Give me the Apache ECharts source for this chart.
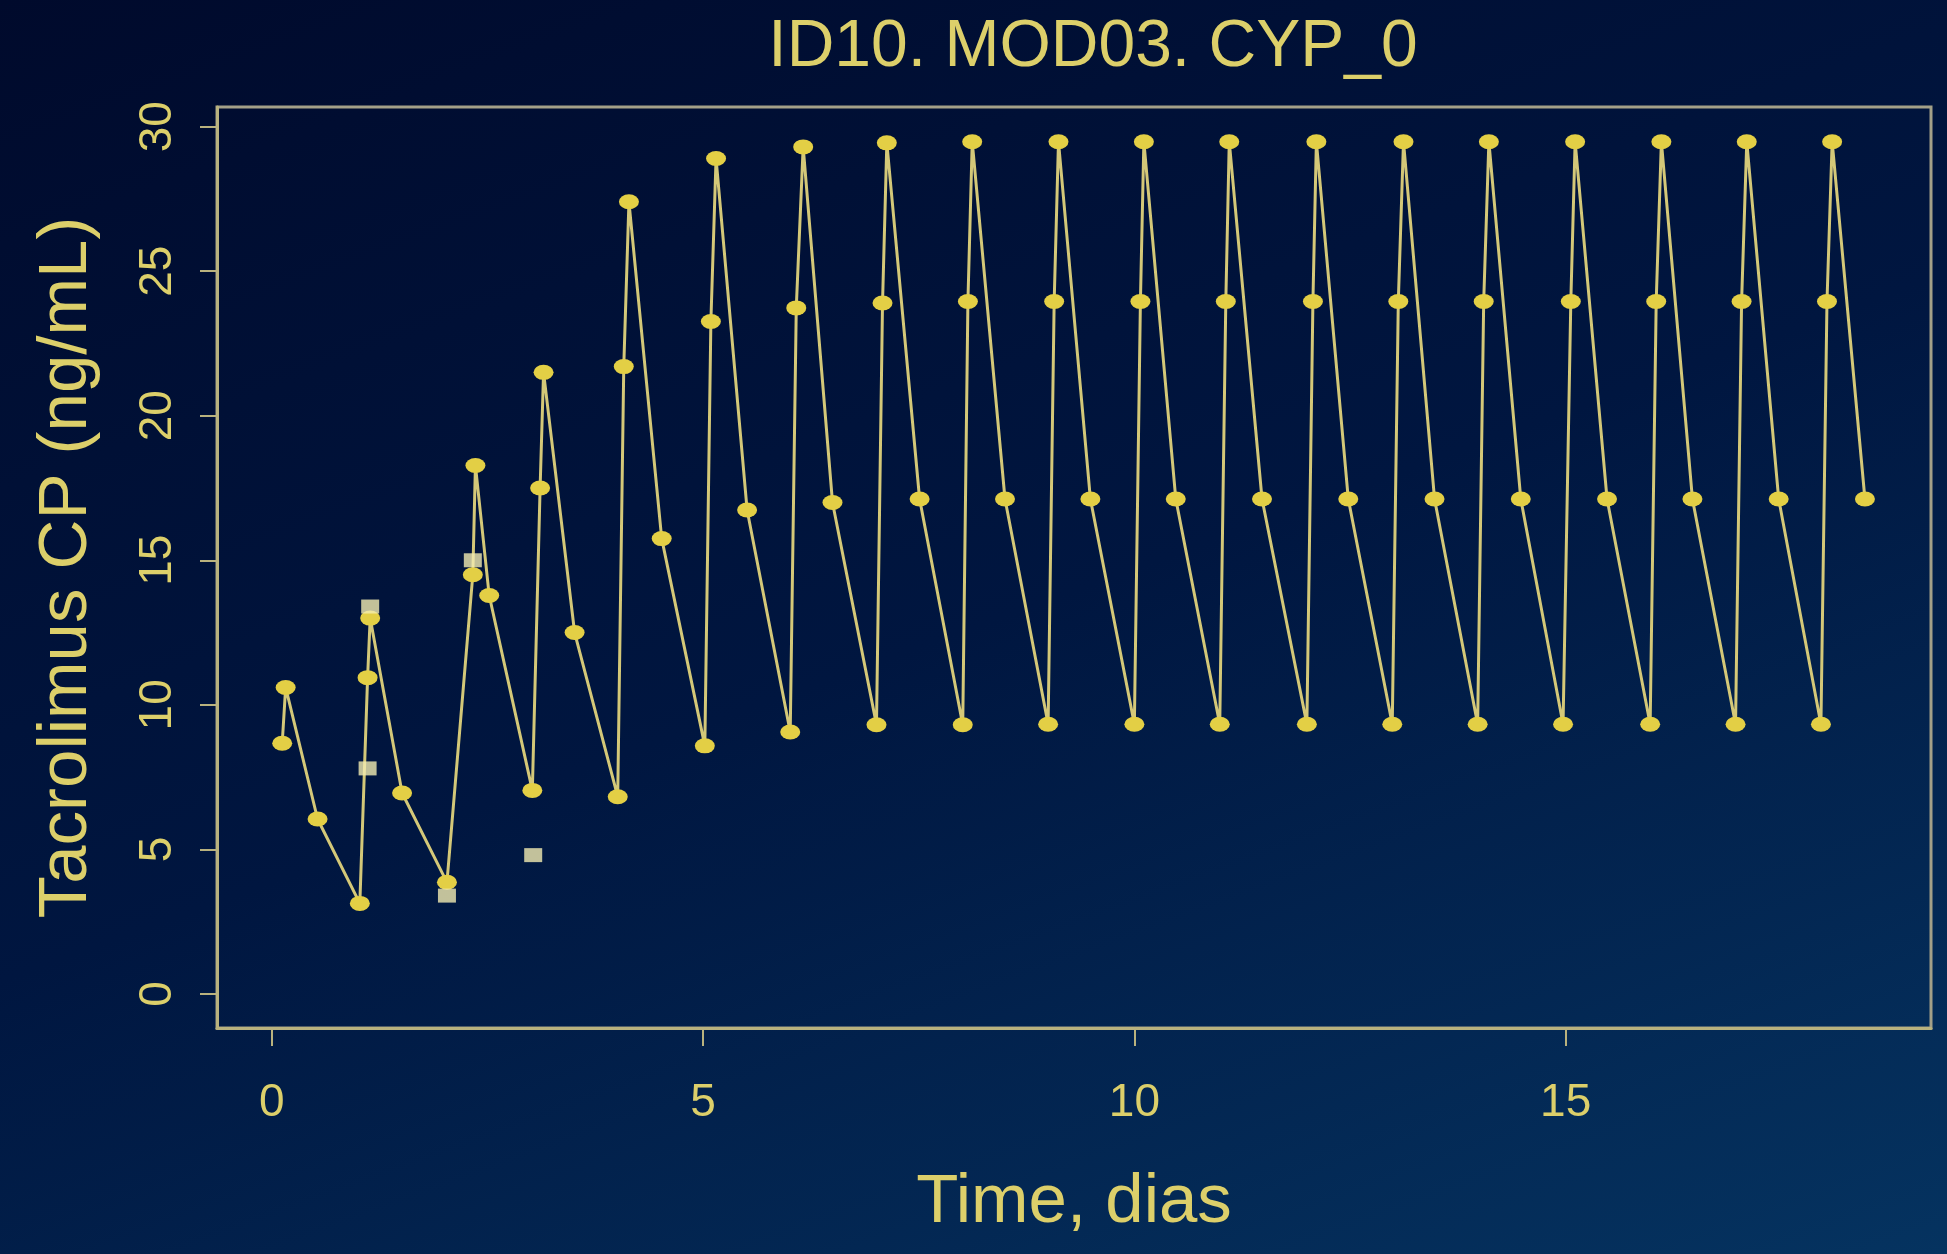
<!DOCTYPE html>
<html>
<head>
<meta charset="utf-8">
<script src="https://cdn.jsdelivr.net/npm/echarts@6/dist/echarts.min.js"></script>
<style>
  html, body { margin: 0; padding: 0; }
  body {
    width: 1947px; height: 1254px; overflow: hidden;
    background: linear-gradient(160deg, #000a2c 0%, #001640 50%, #053360 100%);
  }
  #chart { width: 1947px; height: 1254px; }
</style>
</head>
<body>
<div id="chart"></div>
<script>
// tiempo (dias) y concentracion predicha
var predTime = [
  0.12, 0.16, 0.53, 1.02, 1.11, 1.14, 1.51, 2.03, 2.33, 2.36, 2.52, 3.02, 3.11, 3.15, 3.51,
  4.01, 4.08, 4.14, 4.52,
  5.02, 5.09, 5.15, 5.51,
  6.01, 6.08, 6.16, 6.50,
  7.01, 7.08, 7.13, 7.51,
  8.01, 8.07, 8.12, 8.50,
  9.00, 9.07, 9.12, 9.49,
  10.00, 10.07, 10.11, 10.48,
  10.99, 11.06, 11.10, 11.48,
  12.00, 12.07, 12.11, 12.48,
  12.99, 13.06, 13.12, 13.48,
  13.98, 14.05, 14.11, 14.48,
  14.97, 15.06, 15.11, 15.48,
  15.98, 16.05, 16.11, 16.47,
  16.97, 17.04, 17.10, 17.47,
  17.96, 18.03, 18.09, 18.47
];
var predConc = [
  8.67, 10.6, 6.05, 3.13, 10.94, 13.0, 6.95, 3.86, 14.5, 18.28, 13.78, 7.04, 17.5, 21.5, 12.5,
  6.82, 21.7, 27.4, 15.75,
  8.58, 23.26, 28.9, 16.74,
  9.06, 23.73, 29.3, 17.0,
  9.31, 23.9, 29.44, 17.12,
  9.31, 23.95, 29.48, 17.12,
  9.33, 23.95, 29.48, 17.12,
  9.33, 23.95, 29.48, 17.12,
  9.33, 23.95, 29.48, 17.12,
  9.33, 23.95, 29.48, 17.12,
  9.33, 23.95, 29.48, 17.12,
  9.33, 23.95, 29.48, 17.12,
  9.33, 23.95, 29.48, 17.12,
  9.33, 23.95, 29.48, 17.12,
  9.33, 23.95, 29.48, 17.12,
  9.33, 23.95, 29.48, 17.12
];
// observaciones
var obsTime = [1.11, 1.14, 2.03, 2.33, 3.03];
var obsConc = [7.8, 13.4, 3.4, 15.0, 4.8];

var xTicks = [0, 5, 10, 15];
var yTicks = [0, 5, 10, 15, 20, 25, 30];

var txtColor = '#dccf6a';
var fontFam = '"Liberation Sans", Arial, sans-serif';

var predData = predTime.map(function (t, i) { return [t, predConc[i]]; });
var obsData = obsTime.map(function (t, i) { return [t, obsConc[i]]; });

var myChart = echarts.init(document.getElementById('chart'));
myChart.setOption({
  backgroundColor: 'transparent',
  animation: false,
  title: {
    text: 'ID10. MOD03. CYP_0',
    left: 1088,
    top: 10,
    textAlign: 'center',
    textStyle: { color: txtColor, fontFamily: fontFam, fontWeight: 'normal', fontSize: 66 }
  },
  grid: {
    left: 217, right: 16, top: 107, bottom: 226,
    show: true,
    borderColor: '#a3a088',
    borderWidth: 3,
    backgroundColor: 'transparent'
  },
  xAxis: {
    type: 'value',
    min: -0.636,
    max: 19.236,
    name: 'Time, dias',
    nameLocation: 'middle',
    nameGap: 140,
    nameTextStyle: { color: txtColor, fontFamily: fontFam, fontSize: 69 },
    axisLine: { show: true, onZero: false, lineStyle: { color: '#b9b27e', width: 3 } },
    axisTick: { show: true, length: 18, customValues: xTicks, lineStyle: { color: '#b9b27e', width: 2 } },
    axisLabel: {
      customValues: xTicks,
      color: txtColor, fontFamily: fontFam, fontSize: 46, margin: 52
    },
    splitLine: { show: false }
  },
  yAxis: {
    type: 'value',
    min: -1.18,
    max: 30.68,
    name: 'Tacrolimus CP (ng/mL)',
    nameLocation: 'middle',
    nameGap: 116,
    nameRotate: 90,
    nameTextStyle: { color: txtColor, fontFamily: fontFam, fontSize: 69 },
    axisLine: { show: true, onZero: false, lineStyle: { color: '#b9b27e', width: 3 } },
    axisTick: { show: true, length: 17, customValues: yTicks, lineStyle: { color: '#b9b27e', width: 2 } },
    axisLabel: {
      customValues: yTicks,
      rotate: 90,
      color: txtColor, fontFamily: fontFam, fontSize: 46, margin: 36
    },
    splitLine: { show: false }
  },
  series: [
    {
      name: 'pred',
      type: 'line',
      data: predData,
      symbol: 'circle',
      symbolSize: [20, 15],
      lineStyle: { color: '#d4c878', width: 3 },
      itemStyle: { color: '#e3cf45' },
      z: 2
    },
    {
      name: 'obs',
      type: 'scatter',
      data: obsData,
      symbol: 'rect',
      symbolSize: [18, 14],
      itemStyle: { color: '#f3ecb2' },
      z: 3
    }
  ]
});
</script>
</body>
</html>
